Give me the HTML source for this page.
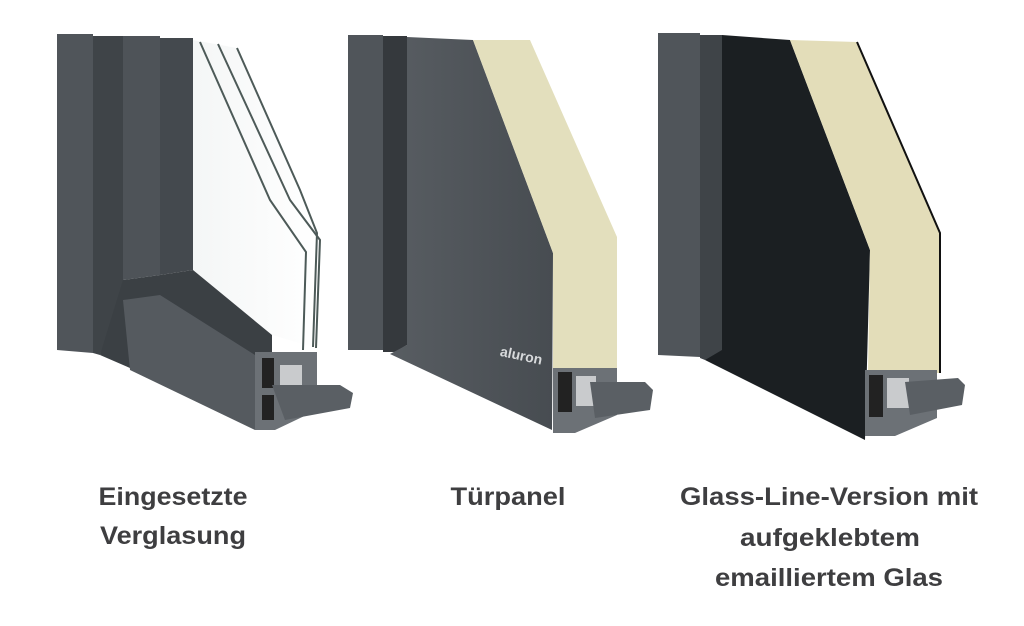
<!DOCTYPE html>
<html><head><meta charset="utf-8"><style>
html,body{margin:0;padding:0;background:#fff;width:1024px;height:626px;overflow:hidden}
svg{display:block}
</style></head><body>
<svg width="1024" height="626" viewBox="0 0 1024 626" xmlns="http://www.w3.org/2000/svg">
<defs>
<linearGradient id="g1" x1="0" x2="1"><stop offset="0" stop-color="#585d62"/><stop offset="1" stop-color="#474c51"/></linearGradient>
<linearGradient id="glass" x1="0" x2="1"><stop offset="0" stop-color="#f4f6f6"/><stop offset="1" stop-color="#ffffff"/></linearGradient>
</defs>
<!-- Product 1 -->
<polygon points="57,34 93,34 93,353 57,350" fill="#50555a"/>
<polygon points="93,36 123,36 123,300 110,330 100,355 93,353" fill="#3f4448"/>
<polygon points="123,36 160,36 160,275 123,280" fill="#4e5358"/>
<polygon points="160,38 193,38 193,270 160,275" fill="#44494e"/>
<polygon points="193,40 237,48 317,233 313,347 272,335 193,270" fill="url(#glass)"/>
<polyline points="200,42 270,200 306,252 303,350" fill="none" stroke="#4d5a58" stroke-width="2"/>
<polyline points="218,44 290,200 320,240 316,348" fill="none" stroke="#4d5a58" stroke-width="2"/>
<polyline points="237,48 300,190 317,233 313,347" fill="none" stroke="#4d5a58" stroke-width="2"/>
<polygon points="100,355 123,280 160,275 193,270 272,335 272,353 200,380 130,368" fill="#3b4044"/>
<polygon points="123,300 160,295 255,355 255,430 130,370" fill="#555a5f"/>
<polygon points="255,352 317,352 317,410 275,430 255,430" fill="#6c7176"/>
<rect x="262" y="358" width="12" height="30" fill="#222"/><rect x="262" y="395" width="12" height="25" fill="#222"/>
<rect x="280" y="365" width="22" height="30" fill="#c9cbcd"/>
<polygon points="272,385 340,385 353,393 350,408 285,420" fill="#5a5f64"/>
<!-- Product 2 -->
<polygon points="348,35 383,35 383,350 348,350" fill="#50555a"/>
<polygon points="383,36 407,36 407,345 395,352 383,352" fill="#35393d"/>
<polygon points="407,37 473,40 553,253 552,430 390,354 407,345" fill="url(#g1)"/>
<polygon points="473,40 530,40 617,237 617,380 553,370 553,253" fill="#e3dfbd"/>
<polygon points="553,368 617,368 617,415 575,433 553,433" fill="#6c7176"/>
<rect x="558" y="372" width="14" height="40" fill="#222"/>
<rect x="576" y="376" width="20" height="30" fill="#c9cbcd"/>
<polygon points="590,382 645,382 653,390 650,410 595,418" fill="#5a5f64"/>
<text x="500" y="360" transform="rotate(12 520 355)" font-family="Liberation Sans, sans-serif" font-weight="bold" font-size="14" fill="#d8dadc">aluron</text>
<!-- Product 3 -->
<polygon points="658,33 700,33 700,357 658,355" fill="#50555a"/>
<polygon points="700,35 722,35 722,355 705,360 700,358" fill="#3f4448"/>
<polygon points="722,35 790,40 870,250 865,440 705,360 722,350" fill="#1b1f22"/>
<polygon points="790,40 857,42 940,233 940,373 868,372 870,250" fill="#e3ddb9"/>
<polyline points="857,42 940,233 940,373" fill="none" stroke="#111" stroke-width="2"/>
<polygon points="865,370 937,370 937,418 895,436 865,436" fill="#6c7176"/>
<rect x="869" y="375" width="14" height="42" fill="#222"/>
<rect x="887" y="378" width="22" height="30" fill="#c9cbcd"/>
<polygon points="905,382 958,378 965,385 962,405 910,415" fill="#5a5f64"/>
<!-- Labels -->
<g font-family="Liberation Sans, sans-serif" font-weight="bold" font-size="25" fill="#3e3e40" text-anchor="middle">
<text x="173" y="505" textLength="149" lengthAdjust="spacingAndGlyphs">Eingesetzte</text>
<text x="173" y="544" textLength="146" lengthAdjust="spacingAndGlyphs">Verglasung</text>
<text x="508" y="505" textLength="115" lengthAdjust="spacingAndGlyphs">Türpanel</text>
<text x="829" y="505" textLength="298" lengthAdjust="spacingAndGlyphs">Glass-Line-Version mit</text>
<text x="830" y="546" textLength="180" lengthAdjust="spacingAndGlyphs">aufgeklebtem</text>
<text x="829" y="586" textLength="228" lengthAdjust="spacingAndGlyphs">emailliertem Glas</text>
</g>
</svg>
</body></html>
